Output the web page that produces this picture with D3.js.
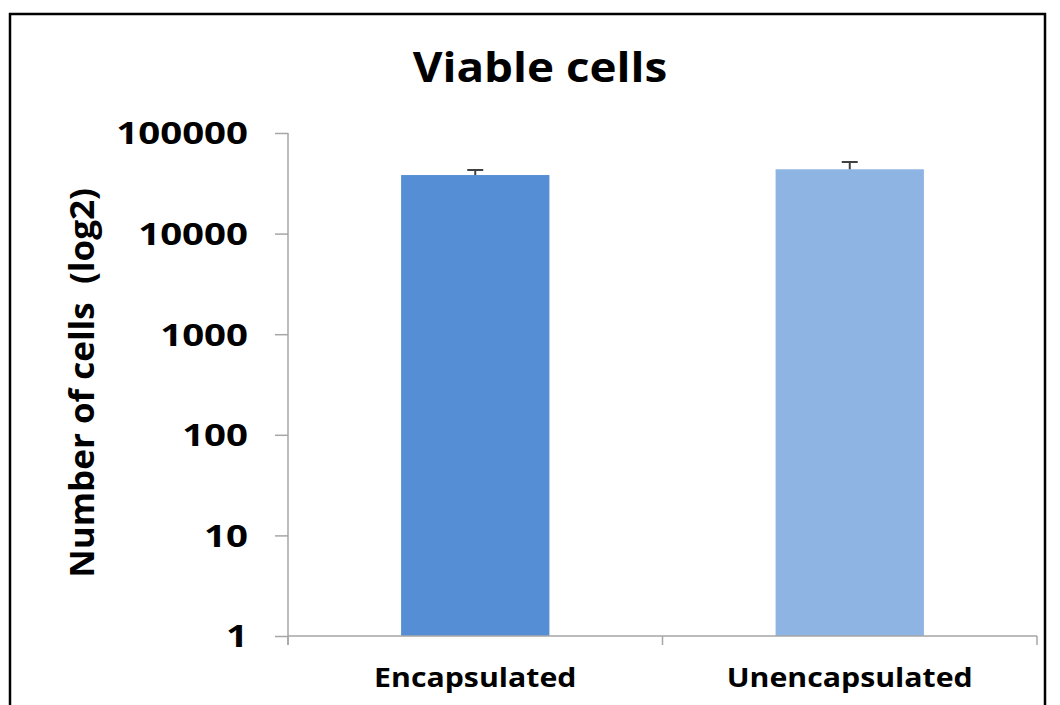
<!DOCTYPE html>
<html lang="en">
  <head>
    <meta charset="utf-8">
    <title>Viable cells</title>
    <script src="https://d3js.org/d3.v7.min.js"></script>
    <style>
      body { margin: 0; background: #fff; }
      text { font-family: "Open Sans", "DejaVu Sans", sans-serif; font-weight: bold; fill: #000; }
    </style>
  </head>
  <body>
    <div id="viz"></div>
    <script>
    // chart data
    var categories = ["Encapsulated", "Unencapsulated"];
    var cellCounts = [38200, 43600];
    var errorTops = [42900, 51500];
    var barColors = ["#558ed5", "#8eb4e3"];
    var tickValues = [1, 10, 100, 1000, 10000, 100000];

    var w = 1060, h = 705;
    var plotLeft = 288, plotRight = 1037, plotTop = 133, plotBottom = 636;

    var svg = d3.select("#viz").append("svg")
        .attr("width", w)
        .attr("height", h);

    // frame round the chart
    svg.append("rect")
        .attr("x", 10).attr("y", 14)
        .attr("width", 1035).attr("height", 720)
        .attr("fill", "none")
        .attr("stroke", "#000")
        .attr("stroke-width", 2.5);

    var x = d3.scaleBand()
        .domain(categories)
        .range([plotLeft, plotRight]);

    var y = d3.scaleLog()
        .domain([1, 100000])
        .range([plotBottom, plotTop]);

    var barW = x.bandwidth() * 0.396;

    // bars
    svg.selectAll(".bar")
        .data(categories)
        .enter().append("rect")
        .attr("class", "bar")
        .attr("x", function(d) { return x(d) + x.bandwidth() / 2 - barW / 2; })
        .attr("y", function(d, i) { return y(cellCounts[i]); })
        .attr("width", barW)
        .attr("height", function(d, i) { return plotBottom - y(cellCounts[i]); })
        .attr("fill", function(d, i) { return barColors[i]; });

    // error bars (upper only)
    var err = svg.selectAll(".err")
        .data(categories)
        .enter().append("g")
        .attr("class", "err")
        .attr("stroke", "#404040")
        .attr("stroke-width", 2);
    err.append("line")
        .attr("x1", function(d) { return x(d) + x.bandwidth() / 2; })
        .attr("x2", function(d) { return x(d) + x.bandwidth() / 2; })
        .attr("y1", function(d, i) { return y(cellCounts[i]); })
        .attr("y2", function(d, i) { return y(errorTops[i]); });
    err.append("line")
        .attr("x1", function(d) { return x(d) + x.bandwidth() / 2 - 8; })
        .attr("x2", function(d) { return x(d) + x.bandwidth() / 2 + 8; })
        .attr("y1", function(d, i) { return y(errorTops[i]); })
        .attr("y2", function(d, i) { return y(errorTops[i]); });

    // y axis
    var yAxis = svg.append("g")
        .attr("transform", "translate(" + plotLeft + ",0)")
        .call(d3.axisLeft(y).tickValues(tickValues).tickFormat(d3.format("d")).tickSize(13).tickPadding(27));
    yAxis.selectAll("text")
        .attr("class", "ytick")
        .attr("dy", "0.36em")
        .style("font-size", "30px")
        .attr("fill", "#000");
    yAxis.select(".domain").attr("stroke", "#a6a6a6").attr("stroke-width", 1.5)
        .attr("d", "M0," + plotTop + "V" + (plotBottom + 9));
    yAxis.selectAll(".tick line").attr("stroke", "#a6a6a6").attr("stroke-width", 1.5);

    // x axis with ticks between categories
    var xAxis = svg.append("g")
        .attr("transform", "translate(0," + plotBottom + ")");
    xAxis.append("line")
        .attr("x1", plotLeft).attr("x2", plotRight)
        .attr("stroke", "#a6a6a6").attr("stroke-width", 1.5);
    xAxis.selectAll(".xtick")
        .data([plotLeft].concat(categories.map(function(d) { return x(d) + x.bandwidth(); })))
        .enter().append("line")
        .attr("x1", function(d) { return d; }).attr("x2", function(d) { return d; })
        .attr("y1", 0).attr("y2", 9)
        .attr("stroke", "#a6a6a6").attr("stroke-width", 1.5);
    xAxis.selectAll(".xlab")
        .data(categories)
        .enter().append("text")
        .attr("class", "xlab")
        .attr("x", function(d) { return x(d) + x.bandwidth() / 2; })
        .attr("y", 51)
        .attr("text-anchor", "middle")
        .style("font-size", "27px")
        .text(function(d) { return d; });

    // title
    svg.append("text")
        .attr("class", "title")
        .attr("x", 540)
        .attr("y", 82)
        .attr("text-anchor", "middle")
        .style("font-size", "42px")
        .text("Viable cells");

    // y axis title
    svg.append("text")
        .attr("class", "ylab")
        .attr("transform", "translate(94,383) rotate(-90)")
        .attr("text-anchor", "middle")
        .style("font-size", "34px")
        .style("white-space", "pre")
        .text("Number of cells  (log2)");

    // the original's lettering is a little wider than Open Sans
    var stretch = { ytick: 1.28, xlab: 1.12, title: 1.09, ylab: 1.03 };
    svg.selectAll("text").each(function() {
      var f = stretch[this.getAttribute("class")] || 1;
      var len = this.getComputedTextLength();
      d3.select(this)
        .attr("textLength", len * f)
        .attr("lengthAdjust", "spacingAndGlyphs");
    });
    </script>
  </body>
</html>
